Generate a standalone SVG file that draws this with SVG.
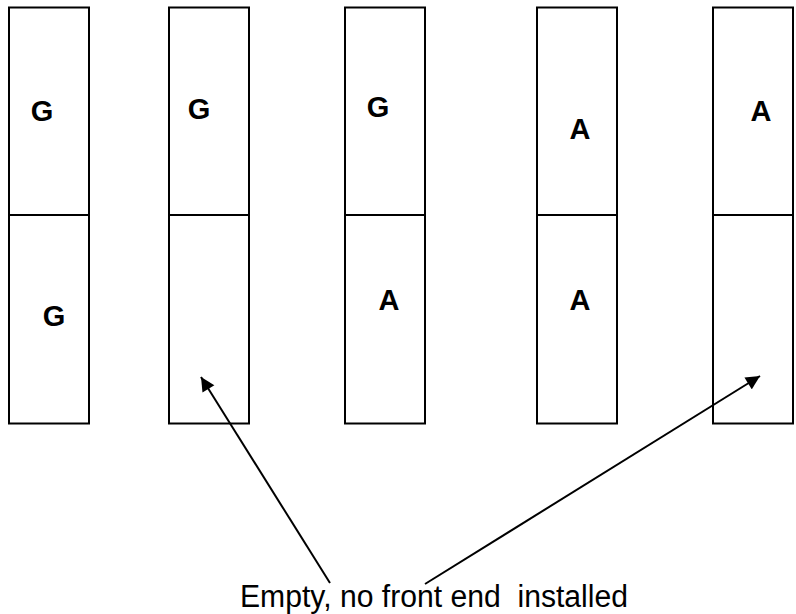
<svg xmlns="http://www.w3.org/2000/svg" width="796" height="614" viewBox="0 0 796 614">
<defs>
<style>
.slot{fill:#fff;stroke:#000;stroke-width:2}
.div{stroke:#000;stroke-width:2}
.lbl{font-family:"Liberation Sans",Arial,sans-serif;font-weight:bold;font-size:29px;fill:#000;text-anchor:middle}
.cap{font-family:"Liberation Sans",Arial,sans-serif;font-size:31px;fill:#000}
.conn{stroke:#000;stroke-width:2;fill:none}
</style>
<marker id="ah" viewBox="0 0 10 10" refX="10" refY="5" markerWidth="8" markerHeight="7" markerUnits="strokeWidth" orient="auto">
<path d="M0,0 L10,5 L0,10 z" fill="#000"/>
</marker>
</defs>
<rect width="796" height="614" fill="#fff"/>
<g id="slot1">
<rect class="slot" x="9" y="7.5" width="80" height="416"/>
<line class="div" x1="9" y1="215" x2="89" y2="215"/>
<text class="lbl" x="42" y="121">G</text>
<text class="lbl" x="54" y="326">G</text>
</g>
<g id="slot2">
<rect class="slot" x="169" y="7.5" width="80" height="416"/>
<line class="div" x1="169" y1="215" x2="249" y2="215"/>
<text class="lbl" x="199" y="119">G</text>
</g>
<g id="slot3">
<rect class="slot" x="345" y="7.5" width="80" height="416"/>
<line class="div" x1="345" y1="215" x2="425" y2="215"/>
<text class="lbl" x="378" y="117">G</text>
<text class="lbl" x="389" y="310">A</text>
</g>
<g id="slot4">
<rect class="slot" x="537" y="7.5" width="80" height="416"/>
<line class="div" x1="537" y1="215" x2="617" y2="215"/>
<text class="lbl" x="580" y="139">A</text>
<text class="lbl" x="580" y="310">A</text>
</g>
<g id="slot5">
<rect class="slot" x="713" y="7.5" width="80" height="416"/>
<line class="div" x1="713" y1="215" x2="793" y2="215"/>
<text class="lbl" x="761" y="121">A</text>
</g>
<g id="connectors">
<line class="conn" x1="330" y1="583" x2="201" y2="377" marker-end="url(#ah)"/>
<line class="conn" x1="425" y1="584" x2="760" y2="376" marker-end="url(#ah)"/>
</g>
<g id="caption">
<text class="cap" x="240" y="607" textLength="388" lengthAdjust="spacingAndGlyphs" xml:space="preserve">Empty, no front end  installed</text>
</g>
</svg>
